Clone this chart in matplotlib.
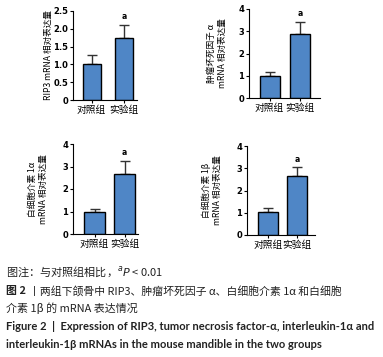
import matplotlib
matplotlib.use("Agg")
import matplotlib.pyplot as plt

plt.rcParams['font.family'] = ['Noto Sans CJK SC', 'DejaVu Sans']

W, H = 383, 357
groups = ["对照组", "实验组"]

# values (means) and upper error
rip3_mean = [1.02, 1.75]
rip3_err = [0.25, 0.37]
tnf_mean = [1.00, 2.88]
tnf_err = [0.15, 0.55]
il1a_mean = [1.00, 2.65]
il1a_err = [0.12, 0.60]
il1b_mean = [1.05, 2.63]
il1b_err = [0.17, 0.42]

sig_marks = ["", "a"]

rip3_ticks = [0, 0.5, 1.0, 1.5, 2.0, 2.5]
rip3_ticklabels = ["0", "0.5", "1.0", "1.5", "2.0", "2.5"]
four_ticks = [0, 1, 2, 3, 4]
four_ticklabels = ["0", "1", "2", "3", "4"]

ylabels = [
    "RIP3 mRNA 相对表达量",
    "肿瘤坏死因子 α\nmRNA 相对表达量",
    "白细胞介素 1α\nmRNA 相对表达量",
    "白细胞介素 1β\nmRNA 相对表达量",
]

fig = plt.figure(figsize=(W / 100, H / 100), dpi=100)

BAR = "#4f86c6"


def panel(left, right, y0, ytop, c0, c1, bw, means, errs, ticks, tlabels, ylab, lab_x):
    ax = fig.add_axes([left / W, 1 - y0 / H, (right - left) / W, (y0 - ytop) / H])
    sp = c1 - c0
    x = [0, 1]
    ax.bar(x, means, width=bw / sp, color=BAR, edgecolor="black", linewidth=1.0, zorder=2)
    ax.errorbar(x, means, yerr=[[0, 0], errs], fmt="none", ecolor="#333333",
                elinewidth=1.0, capsize=3.5, capthick=1.0, zorder=1)
    for xi, m, e, s in zip(x, means, errs, sig_marks):
        if s:
            ax.text(xi, m + e + (ticks[-1]) * 0.04, s, ha="center", va="bottom",
                    fontsize=5.5, fontweight="bold", family="DejaVu Sans")
    ax.set_xlim(-(c0 - left) / sp, 1 + (right - c1) / sp)
    ax.set_ylim(0, ticks[-1])
    ax.set_yticks(ticks)
    ax.set_yticklabels(tlabels, fontsize=6.0, fontweight="bold", family="DejaVu Sans")
    ax.set_xticks(x)
    ax.set_xticklabels(groups, fontsize=7.0)
    ax.tick_params(axis="both", length=2, width=0.8, pad=1.5)
    for s in ["top", "right"]:
        ax.spines[s].set_visible(False)
    for s in ["left", "bottom"]:
        ax.spines[s].set_linewidth(0.8)
    ax.set_ylabel(ylab, fontsize=6.2, linespacing=1.3, fontweight="medium")
    ax.yaxis.set_label_coords((lab_x - left) / (right - left), 0.5)
    return ax


panel(73, 137, 100, 11, 91.5, 124, 18, rip3_mean, rip3_err,
      rip3_ticks, rip3_ticklabels, ylabels[0], 53)
panel(249, 320, 98, 9, 269.5, 300, 20, tnf_mean, tnf_err,
      four_ticks, four_ticklabels, ylabels[1], 227)
panel(73, 138, 234, 144, 94.5, 124.5, 21, il1a_mean, il1a_err,
      four_ticks, four_ticklabels, ylabels[2], 48)
panel(247, 315, 235, 146, 268, 297, 20, il1b_mean, il1b_err,
      four_ticks, four_ticklabels, ylabels[3], 222)

col = "#222222"
fig.text(6 / W, 1 - 272 / H, "图注：与对照组相比，$^{a}$$P$ < 0.01", fontsize=8.0,
         va="center", color=col)
fig.text(6 / W, 1 - 291 / H, "图 2", fontsize=7.9, fontweight="bold", va="center", color=col)
fig.text(29 / W, 1 - 291 / H, "丨两组下颌骨中 RIP3、肿瘤坏死因子 α、白细胞介素 1α 和白细胞",
         fontsize=7.8, va="center", color=col)
fig.text(6 / W, 1 - 308 / H, "介素 1β 的 mRNA 表达情况", fontsize=7.9, va="center", color=col)
fig.text(6 / W, 1 - 327 / H,
         "Figure 2  |  Expression of RIP3, tumor necrosis factor-α, interleukin-1α and",
         fontsize=8.0, fontweight="bold", va="center", color=col, family=["Lato", "DejaVu Sans"])
fig.text(6 / W, 1 - 344 / H,
         "interleukin-1β mRNAs in the mouse mandible in the two groups",
         fontsize=8.0, fontweight="bold", va="center", color=col, family=["Lato", "DejaVu Sans"])

fig.savefig("out.png", dpi=100)
